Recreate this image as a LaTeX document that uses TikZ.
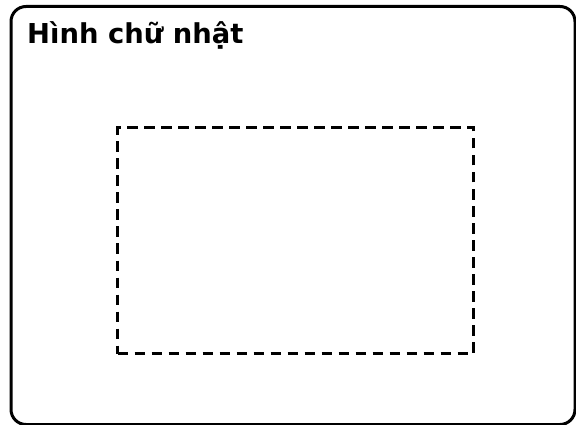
\documentclass[tikz,border=0pt]{standalone}
\usepackage{fontspec}
\setmainfont{DejaVu Sans}
\begin{document}
\begin{tikzpicture}[x=1pt,y=-1pt,
  frame/.style={draw=black,line width=3pt,rounded corners=15pt},
  inner/.style={draw=black,line width=3pt,dash pattern=on 10.5pt off 6.5pt},
  title/.style={anchor=base west,inner sep=0pt,font=\fontsize{27.4}{30}\selectfont\bfseries}]
\useasboundingbox (0,0) rectangle (576,425);
\node[frame,minimum width=564pt,minimum height=418pt,anchor=north west] (outer) at (9.5,5) {};
\node[inner,minimum width=356pt,minimum height=226pt,anchor=north west] (rect) at (116,126) {};
\node[title] (lbl) at (27,44) {Hình chữ nhật};
\end{tikzpicture}
\end{document}
